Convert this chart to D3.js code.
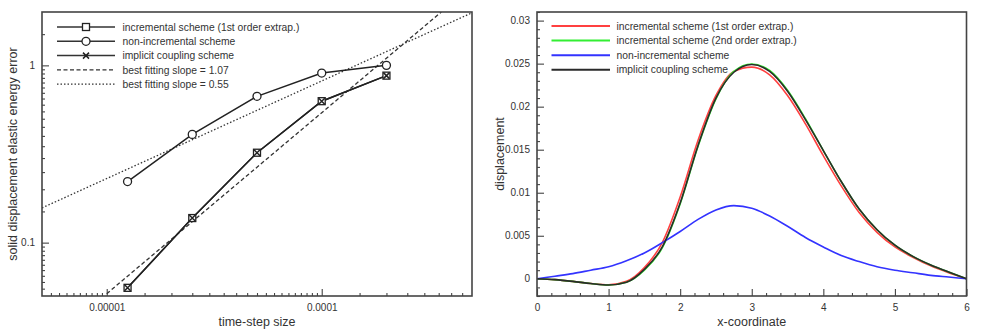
<!DOCTYPE html>
<html>
<head>
<meta charset="utf-8">
<script src="https://cdn.jsdelivr.net/npm/d3@7"></script>
<style>
  body { margin: 0; background: #fff; }
  text { font-family: "Liberation Sans", Arial, sans-serif; fill: #333; }
</style>
</head>
<body>
<div id="chart"></div>
<script>
// ---- left panel data (log-log convergence) ----
const stepSizes = [1.25e-5, 2.5e-5, 5e-5, 1e-4, 2e-4];
const incrementalErr = [0.0556, 0.1376, 0.3215, 0.628, 0.875];
const nonIncrementalErr = [0.221, 0.408, 0.669, 0.905, 1.0];
const implicitErr = [0.0556, 0.1376, 0.3215, 0.628, 0.875];
const fitSteep = [[1e-5, 0.0515], [3.6e-4, 2.0]];   // slope 1.07
const fitShallow = [[5e-6, 0.157], [5e-4, 1.98]];   // slope 0.55
const leftXTicks = [1e-5, 1e-4];
const leftXLabels = ["0.00001", "0.0001"];
const leftYTicks = [0.1, 1];
const leftYLabels = ["0.1", "1"];
const leftLegend = [
    "incremental scheme (1st order extrap.)",
    "non-incremental scheme",
    "implicit coupling scheme",
    "best fitting slope = 1.07",
    "best fitting slope = 0.55"
];

// ---- right panel data (displacement along x) ----
const xCoord = [0, 0.25, 0.5, 0.75, 1, 1.25, 1.5, 1.75, 2, 2.25, 2.5, 2.75, 3,
    3.25, 3.5, 3.75, 4, 4.25, 4.5, 4.75, 5, 5.25, 5.5, 5.75, 6];
const dispIncr1 = [0, -0.0001, -0.0003, -0.00055, -0.0007, -0.0003, 0.0013, 0.0042, 0.0095,
    0.0161, 0.0213, 0.0241, 0.0246, 0.0237, 0.0213, 0.0180, 0.0143, 0.0108, 0.0077,
    0.0054, 0.0037, 0.0025, 0.0015, 0.0007, 0];
const dispIncr2 = [0, -0.0001, -0.0003, -0.00055, -0.00072, -0.0004, 0.0010, 0.0036, 0.0087,
    0.0154, 0.0209, 0.0241, 0.02495, 0.0242, 0.0219, 0.0186, 0.0149, 0.0113, 0.0081,
    0.0057, 0.0039, 0.0026, 0.0016, 0.0008, 0];
const dispNonIncr = [0, 0.0003, 0.0006, 0.001, 0.0014, 0.0021, 0.003, 0.0042, 0.0055,
    0.0069, 0.0080, 0.0085, 0.0082, 0.0073, 0.0061, 0.0048, 0.0037, 0.0027, 0.0020,
    0.0014, 0.0010, 0.0007, 0.0004, 0.0002, 0];
const dispImplicit = [0, -0.0001, -0.0003, -0.00055, -0.00072, -0.0004, 0.0011, 0.0037, 0.0088,
    0.0155, 0.0210, 0.0240, 0.0249, 0.0241, 0.0218, 0.0185, 0.0149, 0.0113, 0.0081,
    0.0057, 0.0039, 0.0026, 0.0016, 0.0008, 0];
const rightXTicks = [0, 1, 2, 3, 4, 5, 6];
const rightXLabels = ["0", "1", "2", "3", "4", "5", "6"];
const rightYTicks = [0, 0.005, 0.01, 0.015, 0.02, 0.025, 0.03];
const rightYLabels = ["0", "0.005", "0.01", "0.015", "0.02", "0.025", "0.03"];
const rightLegend = [
    "incremental scheme (1st order extrap.)",
    "incremental scheme (2nd order extrap.)",
    "non-incremental scheme",
    "implicit coupling scheme"
];
const rightColors = ["#ff4040", "#33ee33", "#3333ff", "#2a2a2a"];

const W = 981, H = 334;
const svg = d3.select("#chart").append("svg")
    .attr("width", W).attr("height", H);

const lineColor = "#222";
const frameColor = "#444";

// ================= LEFT PANEL =================
const L = { left: 42, right: 472, top: 12, bottom: 296 };
const lx = d3.scaleLog().domain([5e-6, 5e-4]).range([L.left, L.right]);
const ly = d3.scaleLog().domain([0.05, 2]).range([L.bottom, L.top]);

const lg = svg.append("g");
svg.append("clipPath").attr("id", "clipL").append("rect")
    .attr("x", L.left).attr("y", L.top).attr("width", L.right - L.left).attr("height", L.bottom - L.top);

// minor ticks: half-steps inside each decade (tecplot style)
const lxMinor = [
    ...d3.range(11, 20).map(k => k * 5e-7),
    ...d3.range(3, 20).map(k => k * 5e-6),
    ...d3.range(3, 10).map(k => k * 5e-5)
];
const lyMinor = [
    ...d3.range(11, 20).map(k => k * 0.005),
    ...d3.range(3, 20).map(k => k * 0.05),
    1.5
];

function styleAxis(g) {
    g.select(".domain").remove();
    g.selectAll("line").attr("stroke", frameColor).attr("stroke-width", 1.1);
    g.selectAll("text").attr("font-size", "10px").attr("fill", "#333")
        .attr("font-family", "'Liberation Sans', Arial, sans-serif");
}

lg.append("g").attr("transform", `translate(0,${L.bottom})`)
    .call(d3.axisBottom(lx).tickValues(lxMinor).tickSize(-3).tickFormat(""))
    .call(styleAxis);
lg.append("g").attr("transform", `translate(0,${L.bottom})`)
    .call(d3.axisBottom(lx).tickValues(leftXTicks).tickSize(-7).tickPadding(8)
        .tickFormat((d, i) => leftXLabels[i]))
    .call(styleAxis);
lg.append("g").attr("transform", `translate(${L.left},0)`)
    .call(d3.axisLeft(ly).tickValues(lyMinor).tickSize(-3).tickFormat(""))
    .call(styleAxis);
lg.append("g").attr("transform", `translate(${L.left},0)`)
    .call(d3.axisLeft(ly).tickValues(leftYTicks).tickSize(-7).tickPadding(7)
        .tickFormat((d, i) => leftYLabels[i]))
    .call(styleAxis);

// fit lines
const lline = d3.line().x(d => lx(d[0])).y(d => ly(d[1]));
const lplot = lg.append("g").attr("clip-path", "url(#clipL)");
lplot.append("path").datum(fitSteep).attr("d", lline)
    .attr("fill", "none").attr("stroke", "#333").attr("stroke-width", 1.3).attr("stroke-dasharray", "4,2.5");
lplot.append("path").datum(fitShallow).attr("d", lline)
    .attr("fill", "none").attr("stroke", "#333").attr("stroke-width", 1.3).attr("stroke-dasharray", "1.5,2");

// data lines
const toPts = (xs, ys) => xs.map((x, i) => [x, ys[i]]);
const incrPts = toPts(stepSizes, incrementalErr);
const nonPts = toPts(stepSizes, nonIncrementalErr);
const implPts = toPts(stepSizes, implicitErr);

[incrPts, nonPts, implPts].forEach(pts => {
    lplot.append("path").datum(pts).attr("d", lline)
        .attr("fill", "none").attr("stroke", lineColor).attr("stroke-width", 1.5);
});

function drawSquare(g, cx, cy) {
    g.append("rect").attr("x", cx - 3.5).attr("y", cy - 3.5).attr("width", 7).attr("height", 7)
        .attr("fill", "#fff").attr("stroke", lineColor).attr("stroke-width", 1.3);
}
function drawCircle(g, cx, cy) {
    g.append("circle").attr("cx", cx).attr("cy", cy).attr("r", 4)
        .attr("fill", "#fff").attr("stroke", lineColor).attr("stroke-width", 1.3);
}
function drawCross(g, cx, cy) {
    g.append("path").attr("d", `M${cx - 3},${cy - 3}L${cx + 3},${cy + 3}M${cx - 3},${cy + 3}L${cx + 3},${cy - 3}`)
        .attr("stroke", lineColor).attr("stroke-width", 1.5);
}

incrPts.forEach(d => drawSquare(lg, lx(d[0]), ly(d[1])));
nonPts.forEach(d => drawCircle(lg, lx(d[0]), ly(d[1])));
implPts.forEach(d => drawCross(lg, lx(d[0]), ly(d[1])));

// frame
lg.append("rect").attr("x", L.left).attr("y", L.top)
    .attr("width", L.right - L.left).attr("height", L.bottom - L.top)
    .attr("fill", "none").attr("stroke", frameColor).attr("stroke-width", 1.6);

// legend
const legL = lg.append("g");
leftLegend.forEach((t, i) => {
    const y = 27 + i * 14.3;
    const ln = legL.append("line").attr("x1", 57).attr("x2", 115).attr("y1", y).attr("y2", y)
        .attr("stroke", "#333").attr("stroke-width", i < 3 ? 1.5 : 1.3);
    if (i === 3) ln.attr("stroke-dasharray", "4,2.5");
    if (i === 4) ln.attr("stroke-dasharray", "1.5,2");
    if (i === 0) drawSquare(legL, 86, y);
    if (i === 1) drawCircle(legL, 86, y);
    if (i === 2) drawCross(legL, 86, y);
    legL.append("text").attr("x", 122.5).attr("y", y).attr("dy", "0.35em")
        .attr("font-size", "10.3px").text(t);
});

// axis titles
lg.append("text").attr("x", (L.left + L.right) / 2).attr("y", 326)
    .attr("text-anchor", "middle").attr("font-size", "12.5px").text("time-step size");
lg.append("text").attr("transform", `translate(17,${(L.top + L.bottom) / 2}) rotate(-90)`)
    .attr("text-anchor", "middle").attr("font-size", "12.5px").text("solid displacement elastic energy error");

// ================= RIGHT PANEL =================
const R = { left: 537, right: 966.5, top: 12, bottom: 296 };
const rx = d3.scaleLinear().domain([0, 6]).range([R.left, R.right]);
const ry = d3.scaleLinear().domain([-0.002, 0.031]).range([R.bottom, R.top]);

const rg = svg.append("g");
svg.append("clipPath").attr("id", "clipR").append("rect")
    .attr("x", R.left).attr("y", R.top).attr("width", R.right - R.left).attr("height", R.bottom - R.top);

const rxMinor = d3.range(0, 31).filter(i => i % 5 !== 0).map(i => i * 0.2);
const ryMinor = d3.range(-2, 32).filter(i => i % 5 !== 0).map(i => i * 0.001);

rg.append("g").attr("transform", `translate(0,${R.bottom})`)
    .call(d3.axisBottom(rx).tickValues(rxMinor).tickSize(-3).tickFormat(""))
    .call(styleAxis);
rg.append("g").attr("transform", `translate(0,${R.bottom})`)
    .call(d3.axisBottom(rx).tickValues(rightXTicks).tickSize(-7).tickPadding(8)
        .tickFormat((d, i) => rightXLabels[i]))
    .call(styleAxis);
rg.append("g").attr("transform", `translate(${R.left},0)`)
    .call(d3.axisLeft(ry).tickValues(ryMinor).tickSize(-3).tickFormat(""))
    .call(styleAxis);
rg.append("g").attr("transform", `translate(${R.left},0)`)
    .call(d3.axisLeft(ry).tickValues(rightYTicks).tickSize(-7).tickPadding(7)
        .tickFormat((d, i) => rightYLabels[i]))
    .call(styleAxis);

const rline = d3.line().x(d => rx(d[0])).y(d => ry(d[1])).curve(d3.curveMonotoneX);
const rplot = rg.append("g").attr("clip-path", "url(#clipR)");
const rSeries = [dispIncr1, dispIncr2, dispNonIncr, dispImplicit];
rSeries.forEach((ys, i) => {
    rplot.append("path").datum(toPts(xCoord, ys)).attr("d", rline)
        .attr("fill", "none").attr("stroke", rightColors[i]).attr("stroke-width", 1.6);
});

rg.append("rect").attr("x", R.left).attr("y", R.top)
    .attr("width", R.right - R.left).attr("height", R.bottom - R.top)
    .attr("fill", "none").attr("stroke", frameColor).attr("stroke-width", 1.6);

rightLegend.forEach((t, i) => {
    const y = 26 + i * 14.6;
    rg.append("line").attr("x1", 551.5).attr("x2", 610).attr("y1", y).attr("y2", y)
        .attr("stroke", rightColors[i]).attr("stroke-width", 2);
    rg.append("text").attr("x", 616.5).attr("y", y).attr("dy", "0.35em")
        .attr("font-size", "10.3px").text(t);
});

rg.append("text").attr("x", (R.left + R.right) / 2).attr("y", 326)
    .attr("text-anchor", "middle").attr("font-size", "12.5px").text("x-coordinate");
rg.append("text").attr("transform", `translate(504,${(R.top + R.bottom) / 2}) rotate(-90)`)
    .attr("text-anchor", "middle").attr("font-size", "12.5px").text("displacement");
</script>
</body>
</html>
